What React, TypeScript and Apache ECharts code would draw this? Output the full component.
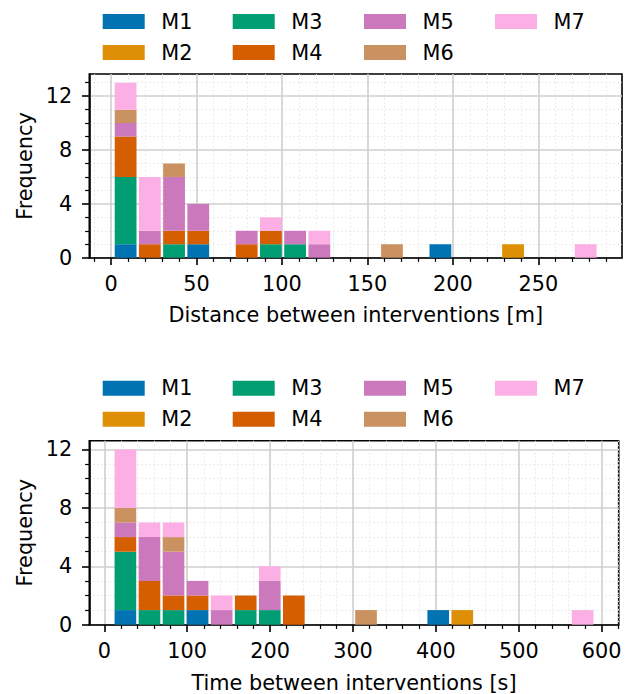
import React, { useEffect, useRef } from "react";
import * as echarts from "echarts";

// ---------- data ----------
const seriesNames = ["M1", "M2", "M3", "M4", "M5", "M6", "M7"];
const colors = ["#0173B2", "#DE8F05", "#029E73", "#D55E00", "#CC78BC", "#CA9161", "#FBAFE4"];

// Histogram bins (20 bins each)
const distBinStart = 1.47;
const distBinWidth = 14.17;
const timeBinStart = 10.9;
const timeBinWidth = 29.03;
const binCount = 20;

const distM1 = [1, 0, 0, 1, 0, 0, 0, 0, 0, 0, 0, 0, 0, 1, 0, 0, 0, 0, 0, 0];
const distM2 = [0, 0, 0, 0, 0, 0, 0, 0, 0, 0, 0, 0, 0, 0, 0, 0, 1, 0, 0, 0];
const distM3 = [5, 0, 1, 0, 0, 0, 1, 1, 0, 0, 0, 0, 0, 0, 0, 0, 0, 0, 0, 0];
const distM4 = [3, 1, 1, 1, 0, 1, 1, 0, 0, 0, 0, 0, 0, 0, 0, 0, 0, 0, 0, 0];
const distM5 = [1, 1, 4, 2, 0, 1, 0, 1, 1, 0, 0, 0, 0, 0, 0, 0, 0, 0, 0, 0];
const distM6 = [1, 0, 1, 0, 0, 0, 0, 0, 0, 0, 0, 1, 0, 0, 0, 0, 0, 0, 0, 0];
const distM7 = [2, 4, 0, 0, 0, 0, 1, 0, 1, 0, 0, 0, 0, 0, 0, 0, 0, 0, 0, 1];

const timeM1 = [1, 0, 0, 1, 0, 0, 0, 0, 0, 0, 0, 0, 0, 1, 0, 0, 0, 0, 0, 0];
const timeM2 = [0, 0, 0, 0, 0, 0, 0, 0, 0, 0, 0, 0, 0, 0, 1, 0, 0, 0, 0, 0];
const timeM3 = [4, 1, 1, 0, 0, 1, 1, 0, 0, 0, 0, 0, 0, 0, 0, 0, 0, 0, 0, 0];
const timeM4 = [1, 2, 1, 1, 0, 1, 0, 2, 0, 0, 0, 0, 0, 0, 0, 0, 0, 0, 0, 0];
const timeM5 = [1, 3, 3, 1, 1, 0, 2, 0, 0, 0, 0, 0, 0, 0, 0, 0, 0, 0, 0, 0];
const timeM6 = [1, 0, 1, 0, 0, 0, 0, 0, 0, 0, 1, 0, 0, 0, 0, 0, 0, 0, 0, 0];
const timeM7 = [4, 1, 1, 0, 1, 0, 1, 0, 0, 0, 0, 0, 0, 0, 0, 0, 0, 0, 0, 1];

const distSeries = [distM1, distM2, distM3, distM4, distM5, distM6, distM7];
const timeSeries = [timeM1, timeM2, timeM3, timeM4, timeM5, timeM6, timeM7];

const distTicks = [0, 50, 100, 150, 200, 250];
const timeTicks = [0, 100, 200, 300, 400, 500, 600];
const freqTicks = [0, 4, 8, 12];

const FONT = "DejaVu Sans";
const FS = 20.8;

// category labels for bins, padded with one empty bin each side (matplotlib 5% margins = 1 bin)
function binLabels(start: number, width: number) {
  const labels: string[] = ["lo"];
  for (let i = 0; i < binCount; i++) labels.push((start + (i + 0.5) * width).toFixed(1));
  labels.push("hi");
  return labels;
}

function App() {
  const ref = useRef<HTMLDivElement>(null);
  useEffect(() => {
    if (!ref.current) return;
    const chart = echarts.init(ref.current, null, { renderer: "svg" });

    const G = [
      { left: 89.3, top: 74, width: 532.7, height: 183.7 },
      { left: 89.3, top: 440.7, width: 529.4, height: 184 },
    ];

    const mkX = (idx: number, min: number, max: number, step: number, ticks: number[]) => ({
      type: "value",
      gridIndex: idx,
      min,
      max,
      splitNumber: 6,
      minInterval: step,
      maxInterval: step,
      axisLine: { show: true, onZero: false, lineStyle: { color: "#000", width: 1.6 } },
      axisTick: { show: true, length: 7.3, customValues: ticks, lineStyle: { color: "#000", width: 1.6 } },
      minorTick: { show: true, splitNumber: 5, length: 4.2, lineStyle: { color: "#000", width: 1.2 } },
      axisLabel: {
        show: true,
        customValues: ticks,
        margin: 16,
        color: "#000",
        fontFamily: FONT,
        fontSize: FS,
      },
      splitLine: { show: true, lineStyle: { color: "#cfcfcf", width: 1.6 } },
      minorSplitLine: { show: true, lineStyle: { color: "#e2e2e2", width: 0.9, type: [1.5, 2.5] } },
    });

    const mkCat = (idx: number, labels: string[]) => ({
      type: "category",
      gridIndex: idx,
      data: labels,
      boundaryGap: true,
      show: false,
    });

    const mkY = (idx: number, max: number) => ({
      type: "value",
      gridIndex: idx,
      min: 0,
      max,
      splitNumber: 3,
      minInterval: 4,
      maxInterval: 4,
      axisLine: { show: true, onZero: false, lineStyle: { color: "#000", width: 1.6 } },
      axisTick: { show: true, length: 7.3, customValues: freqTicks, lineStyle: { color: "#000", width: 1.6 } },
      minorTick: { show: true, splitNumber: 4, length: 4.2, lineStyle: { color: "#000", width: 1.2 } },
      axisLabel: {
        show: true,
        customValues: freqTicks,
        margin: 17,
        color: "#000",
        fontFamily: FONT,
        fontSize: FS,
      },
      splitLine: { show: true, lineStyle: { color: "#cfcfcf", width: 1.6 } },
      minorSplitLine: { show: true, lineStyle: { color: "#e2e2e2", width: 0.9, type: [1.5, 2.5] } },
    });

    const series: any[] = [];
    distSeries.forEach((vals, s) => {
      series.push({
        type: "bar",
        name: seriesNames[s],
        xAxisIndex: 2,
        yAxisIndex: 0,
        stack: "dist",
        barWidth: "90%",
        itemStyle: { color: colors[s] },
        data: [0, ...vals, 0],
      });
    });
    timeSeries.forEach((vals, s) => {
      series.push({
        type: "bar",
        name: seriesNames[s],
        xAxisIndex: 3,
        yAxisIndex: 1,
        stack: "time",
        barWidth: "90%",
        itemStyle: { color: colors[s] },
        data: [0, ...vals, 0],
      });
    });

    const colLeft = [102.7, 232.7, 364, 495];
    const colItems = [["M1", "M2"], ["M3", "M4"], ["M5", "M6"], ["M7"]];
    const legendTops = [11, 377.7];
    const legends: any[] = [];
    legendTops.forEach((t) => {
      colItems.forEach((items, c) => {
        legends.push({
          orient: "vertical",
          left: colLeft[c],
          top: t,
          padding: 0,
          itemWidth: 42,
          itemHeight: 15,
          itemGap: 10,
          icon: "rect",
          selectedMode: false,
          data: items,
          textStyle: {
            fontFamily: FONT,
            fontSize: FS,
            color: "#000",
            padding: [0, 0, 0, 11.6],
          },
        });
      });
    });

    const titleStyle = { fontFamily: FONT, fontSize: FS, fill: "#000", align: "center", verticalAlign: "middle" };

    chart.setOption({
      animation: false,
      backgroundColor: "#fff",
      grid: G.map((g) => ({ ...g, show: true, borderColor: "#000", borderWidth: 1.6, backgroundColor: "transparent" })),
      xAxis: [
        mkX(0, -12.7, 299, 50, distTicks),
        mkX(1, -18.1, 620.5, 100, timeTicks),
        mkCat(0, binLabels(distBinStart, distBinWidth)),
        mkCat(1, binLabels(timeBinStart, timeBinWidth)),
      ],
      yAxis: [mkY(0, 13.65), mkY(1, 12.6)],
      legend: legends,
      series,
      graphic: [
        { type: "text", x: 355.7, y: 315, style: { ...titleStyle, text: "Distance between interventions [m]" } },
        { type: "text", x: 354, y: 683, style: { ...titleStyle, text: "Time between interventions [s]" } },
        { type: "text", x: 24.5, y: 166, rotation: Math.PI / 2, style: { ...titleStyle, text: "Frequency" } },
        { type: "text", x: 24.5, y: 532.7, rotation: Math.PI / 2, style: { ...titleStyle, text: "Frequency" } },
      ],
    });
    return () => chart.dispose();
  }, []);
  return <div ref={ref} style={{ position: "absolute", left: 0, top: 0, width: 629, height: 694 }} />;
}

export default App;
